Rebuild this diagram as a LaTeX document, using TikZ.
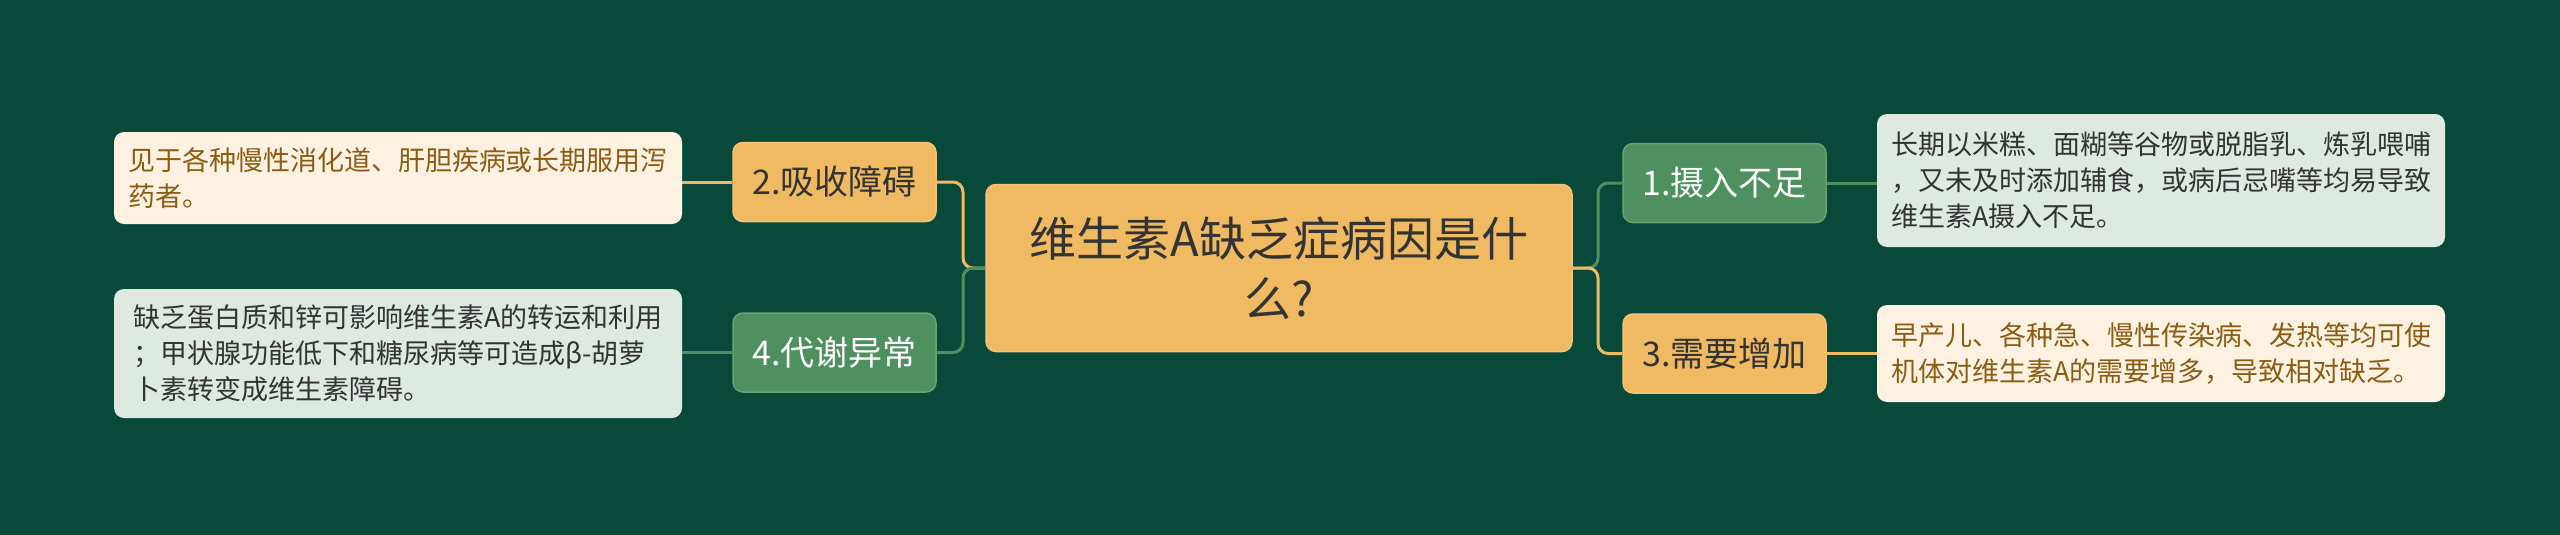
\documentclass[tikz,border=0pt]{standalone}
\usepackage{fontspec}
\setmainfont{Noto Sans CJK SC}
\definecolor{bg}{HTML}{08493A}
\definecolor{org}{HTML}{F0BA62}
\definecolor{grn}{HTML}{4E9060}
\definecolor{cream}{HTML}{FDF2E2}
\definecolor{lgrn}{HTML}{DEE9E2}
\definecolor{brn}{HTML}{8B5C14}
\definecolor{dark}{HTML}{333333}
\tikzset{
  box/.style={rounded corners=10pt, inner sep=0pt},
  centerbox/.style={box, fill=org, draw=org!85!white, line width=1.5pt, text=dark, font=\fontsize{47}{60}\selectfont, align=center, minimum width=586pt, minimum height=167pt},
  obox/.style={box, fill=org, draw=org!85!white, line width=1.5pt, text=dark, font=\fontsize{34}{40}\selectfont, minimum width=203pt, minimum height=79pt},
  gbox/.style={box, fill=grn, draw=grn!85!white, line width=1.5pt, text=white, font=\fontsize{34}{40}\selectfont, minimum width=203pt, minimum height=79pt},
  cleaf/.style={box, fill=cream, text=brn, font=\fontsize{27}{36}\selectfont, align=left, minimum width=568pt},
  gleaf/.style={box, fill=lgrn, text=dark, font=\fontsize{27}{36}\selectfont, align=left, minimum width=568pt},
  oline/.style={draw=org, line width=3pt, rounded corners=10pt},
  gline/.style={draw=grn, line width=3pt, rounded corners=10pt},
}
\begin{document}
\begin{tikzpicture}[x=1pt,y=-1pt]
\fill[bg] (0,0) rectangle (2560,535);
\useasboundingbox (0,0) rectangle (2560,535);

\coordinate (lb) at (963,268);
\coordinate (rb) at (1598,268);

\node[centerbox] (c) at (1279,268) {维生素A缺乏症病因是什\\么?};
\node[obox] (n2) at (834.5,182) {2.吸收障碍};
\node[gbox] (n4) at (834.5,352.5) {4.代谢异常};
\node[gbox] (n1) at (1724.5,183) {1.摄入不足};
\node[obox] (n3) at (1724.5,353.5) {3.需要增加};

\node[cleaf, minimum height=92pt] (l2) at (398,178) {见于各种慢性消化道、肝胆疾病或长期服用泻\\药者。};
\node[gleaf, minimum height=129pt] (l4) at (398,353.5) {缺乏蛋白质和锌可影响维生素A的转运和利用\\；甲状腺功能低下和糖尿病等可造成β-胡萝\\卜素转变成维生素障碍。};
\node[gleaf, minimum height=133pt] (l1) at (2161,180.5) {长期以米糕、面糊等谷物或脱脂乳、炼乳喂哺\\，又未及时添加辅食，或病后忌嘴等均易导致\\维生素A摄入不足。};
\node[cleaf, minimum height=97pt] (l3) at (2161,353.5) {早产儿、各种急、慢性传染病、发热等均可使\\机体对维生素A的需要增多，导致相对缺乏。};

\path[oline] (c.west) -- (lb) |- (n2.east);
\path[gline] (c.west) -- (lb) |- (n4.east);
\path[gline] (c.east) -- (rb) |- (n1.west);
\path[oline] (c.east) -- (rb) |- (n3.west);
\path[oline] (n2.west) -- (n2.west -| l2.east);
\path[gline] (n4.west) -- (n4.west -| l4.east);
\path[gline] (n1.east) -- (n1.east -| l1.west);
\path[oline] (n3.east) -- (n3.east -| l3.west);
\end{tikzpicture}
\end{document}
